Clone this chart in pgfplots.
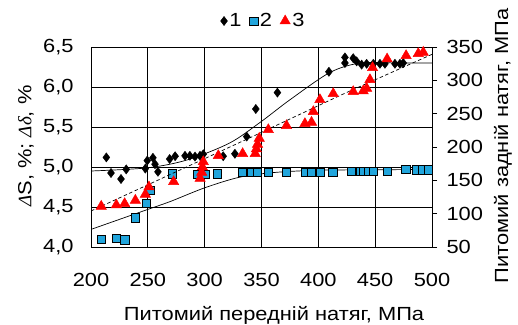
\documentclass[border=0pt]{standalone}
\usepackage{pgfplots}
\pgfplotsset{compat=1.18}
\usepackage{fontspec}
\setmainfont{Liberation Sans}[FakeStretch=1.15]
\newfontfamily\grk{Liberation Serif}
\definecolor{sqblue}{RGB}{33,165,220}
\begin{document}
\begin{tikzpicture}[font=\fontsize{19bp}{22bp}\selectfont]
\begin{axis}[
  at={(91bp,78bp)}, anchor=south west,
  scale only axis, width=341bp, height=200bp,
  xmin=200, xmax=500, ymin=4, ymax=6.5,
  xtick={200,250,300,350,400,450,500},
  ytick={4,4.5,5,5.5,6,6.5},
  yticklabels={{4,0},{4,5},{5,0},{5,5},{6,0},{6,5}},
  /pgf/number format/assume math mode=true,
  grid=major, grid style={black, line width=0.7bp},
  axis line style={black, line width=0.8bp},
  tick style={draw=none},
  xticklabel style={yshift=-23bp},
  yticklabel style={xshift=-14bp},
]
% series 1
\addplot[only marks, mark=diamond*, mark size=4.6bp, mark options={fill=black, draw=black}] coordinates {
(213.5,5.12)(217.6,4.925)(226.4,4.85)(231,4.97)(247.8,4.98)(249.5,5.08)(254.5,5.115)(256.3,5.035)(258.9,4.94)
(269.2,5.10)(274,5.135)(282.7,5.14)(287,5.14)(291.5,5.13)(295.9,5.14)(298.8,5.16)(316.3,5.135)(326.6,5.165)
(337,5.38)(345,5.725)(364,5.93)(409.3,6.19)(423.4,6.37)(423.4,6.30)(430.7,6.36)(433.7,6.32)(438.1,6.28)
(442.5,6.29)(448.4,6.29)(454.2,6.29)(458.6,6.29)(467.4,6.29)(471.8,6.29)(474.7,6.30)
};
% series 2
\addplot[only marks, mark=square*, mark size=4.1bp, mark options={fill=sqblue, draw=black, line width=0.6bp}] coordinates {
(209.2,4.10)(222.5,4.11)(229.8,4.09)(239,4.365)(248.3,4.545)(251.8,4.705)(271.8,4.915)(294,4.91)(300.8,4.91)
(310.8,4.915)(332.8,4.935)(341.5,4.93)(346,4.93)(356,4.93)(372,4.935)(388.2,4.935)(394,4.935)(401.4,4.935)
(412.7,4.935)(429.2,4.95)(437,4.95)(439.6,4.95)(443.9,4.95)(448.3,4.95)(460.6,4.95)(477,4.97)(486.4,4.965)
(491.7,4.965)(496.6,4.965)
};
% trend lines
\addplot[black, line width=0.7bp, smooth] coordinates {
(200,4.95)(250,4.99)(285,5.09)(322,5.30)(349,5.56)(375,5.84)(410,6.18)(437,6.30)(470,6.30)(500,6.30)
};
\addplot[black, line width=0.7bp, smooth] coordinates {
(200,4.22)(250,4.47)(270,4.57)(300,4.74)(330,4.87)(360,4.93)(400,4.96)(450,4.965)(500,4.97)
};
\end{axis}
\begin{axis}[
  at={(91bp,78bp)}, anchor=south west,
  scale only axis, width=341bp, height=200bp,
  xmin=200, xmax=500, ymin=50, ymax=350,
  axis x line=none, axis y line*=right,
  ytick={50,100,150,200,250,300,350},
  /pgf/number format/assume math mode=true,
  axis line style={black, line width=0.8bp},
  tick style={black, line width=0.8bp},
  tick align=outside, major tick length=5bp,
  yticklabel style={xshift=6bp},
  legend columns=3,
  legend style={draw=none, fill=none, at={(axis description cs:0.506,1.13)}, anchor=center,
    /tikz/every even column/.append style={column sep=6bp}},
  legend cell align=left,
]
\addlegendimage{only marks, mark=diamond*, mark size=4.6bp, mark options={fill=black, draw=black}}
\addlegendentry{1}
\addlegendimage{only marks, mark=square*, mark size=4.1bp, mark options={fill=sqblue, draw=black, line width=0.6bp}}
\addlegendentry{2}
\addplot[only marks, mark=triangle*, mark size=6bp, mark options={fill=red, draw=red}] coordinates {
(209,111)(222.3,113)(229.6,115)(239,120)(247.8,129)(251,140)(272.7,148)(296,153)(297.4,162)(298,170)(298.8,178)
(312,187)(333.4,190)(344.5,190)(345.5,197)(346.5,204)(348,213)(356,226)(372,232)(388.2,235)(394,237)
(395.6,253)(401.4,271)(413.1,280)(430.7,283)(439.5,284)(442.5,288)(445.4,301)(447.7,319)(460.5,332)
(477.2,337)(487.9,340)(492.3,342)
};
\addlegendentry{3}
\addplot[black, line width=0.7bp, dash pattern=on 3.5bp off 2.5bp, forget plot] coordinates {
(200,104)(340,214)(420,278)(500,339)
};
\end{axis}
\node[anchor=center] at (274bp,10bp) {Питомий передній натяг, МПа};
\node[anchor=center, rotate=90] at (26bp,179bp) {{\grk\itshape Δ}S, \%; {\grk\itshape Δδ}, \%};
\node[anchor=center, rotate=90] at (503bp,179bp) {Питомий задній натяг, МПа};
\pgfresetboundingbox
\useasboundingbox (0,0) rectangle (518bp,325bp);
\end{tikzpicture}
\end{document}
